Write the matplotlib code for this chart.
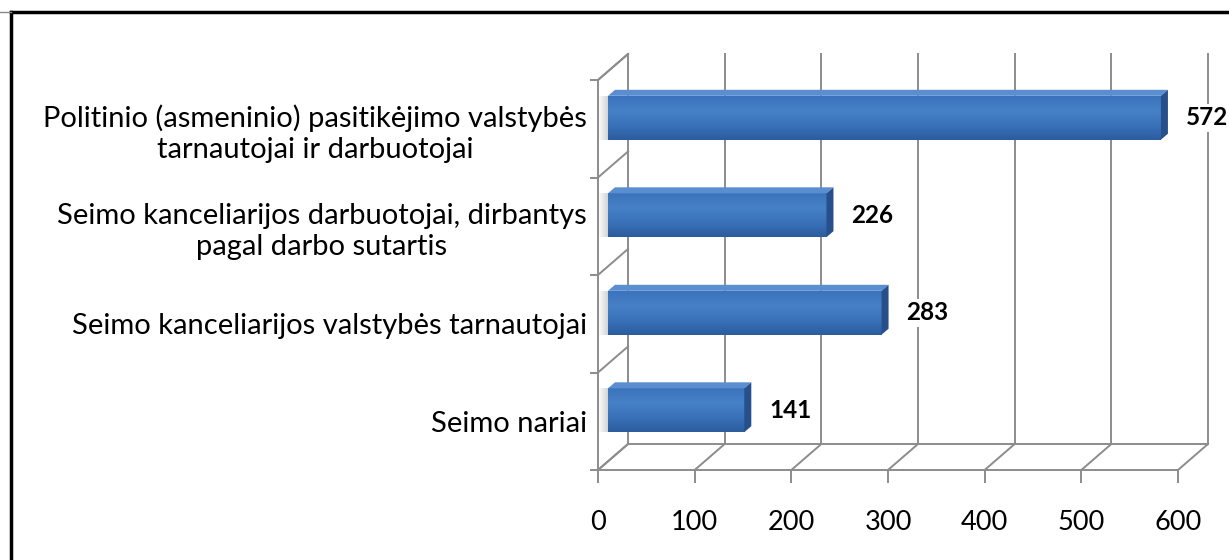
import numpy as np
import matplotlib.pyplot as plt
from matplotlib.patches import Polygon
from matplotlib.colors import LinearSegmentedColormap
from matplotlib.lines import Line2D

# data (bottom to top)
categories = ["Seimo nariai",
              "Seimo kanceliarijos valstybės tarnautojai",
              "Seimo kanceliarijos darbuotojai, dirbantys\npagal darbo sutartis",
              "Politinio (asmeninio) pasitikėjimo valstybės\ntarnautojai ir darbuotojai"]
values = [141, 283, 226, 572]
xticks = [0, 100, 200, 300, 400, 500, 600]

plt.rcParams['font.family'] = ['Lato', 'DejaVu Sans']
grid_col = '#8c8c8c'

fig = plt.figure(figsize=(12.29, 5.6), dpi=100)
ax = fig.add_axes([598 / 1229, 90 / 560, 580 / 1229, 390 / 560])
ax.set_xlim(0, 600)
ax.set_ylim(-0.5, len(categories) - 0.5)

# pixel -> data units
ux = 600 / ax.bbox.width
uy = len(categories) / ax.bbox.height
bx, by = 30 * ux, 26 * uy          # back wall depth
fx, fy = 10 * ux, 11 * uy          # bar front face depth
tx, ty = 7 * ux, 6 * uy            # bar thickness
y0, y1 = -0.5, len(categories) - 0.5

def seg(xs, ys, z=1):
    ax.add_line(Line2D(xs, ys, color=grid_col, lw=1.4, zorder=z, clip_on=False))

# back wall and floor
for v in xticks:
    seg([v + bx, v + bx], [y0 + by, y1 + by])
    seg([v, v + bx], [y0, y0 + by])
seg([bx, 600 + bx], [y0 + by, y0 + by])
seg([0, bx], [y1, y1 + by])
for b in np.arange(y0, y1 + 1):
    seg([0, bx], [b, b + by])

# bars
cmap = LinearSegmentedColormap.from_list('bar', ['#2c5c9e', '#3a72ba', '#4680c6', '#3b74bc'])
shade = LinearSegmentedColormap.from_list('shade', ['#ffffff', '#d4d4d4'])
h = 0.45
for i, v in enumerate(values):
    bot, top = i + fy - h / 2, i + fy + h / 2
    # soft shadow on side wall
    ax.imshow(np.linspace(0, 1, 30).reshape(1, -1), extent=(0, fx, bot, top), cmap=shade,
              aspect='auto', zorder=2, clip_on=False)
    ax.barh(i + fy, v, left=fx, height=h, color='#3a72ba', zorder=3, clip_on=False)
    grad = np.linspace(0, 1, 50).reshape(-1, 1)
    ax.imshow(grad, extent=(fx, fx + v, bot, top), origin='lower', cmap=cmap,
              aspect='auto', zorder=3.5, clip_on=False)
    ax.add_patch(Polygon([(fx, top), (fx + v, top), (fx + v + tx, top + ty), (fx + tx, top + ty)],
                         closed=True, fc='#5a8ed0', ec='none', zorder=4, clip_on=False))
    ax.add_patch(Polygon([(fx + v, bot), (fx + v, top), (fx + v + tx, top + ty), (fx + v + tx, bot + ty)],
                         closed=True, fc='#264f8c', ec='none', zorder=4, clip_on=False))
    ax.annotate(str(v), xy=(fx + v + tx, i + fy), xytext=(13, 0), textcoords='offset points',
                ha='left', va='center', fontsize=17.5, fontweight='bold', color='black',
                bbox=dict(boxstyle='square,pad=0.1', fc='white', ec='none'), zorder=5,
                annotation_clip=False)

ax.set_xlim(0, 600)
ax.set_ylim(y0, y1)

# axes, ticks
for s in ['top', 'right']:
    ax.spines[s].set_visible(False)
for s in ['left', 'bottom']:
    ax.spines[s].set_color(grid_col)
    ax.spines[s].set_linewidth(1.4)
ax.set_xticks(xticks)
ax.tick_params(axis='x', length=9, width=1.4, color=grid_col, pad=20, labelsize=19.5)
ax.set_yticks(range(len(categories)))
ax.set_yticklabels(categories, multialignment='center', linespacing=1.25)
ax.set_yticks(np.arange(y0, y1 + 1), minor=True)
ax.tick_params(axis='y', which='major', length=0, pad=8, labelsize=21)
ax.tick_params(axis='y', which='minor', length=6, width=1.4, color=grid_col)
ax.set_facecolor('none')

# outer frame
fig.add_artist(Line2D([11 / 1229, 11 / 1229], [0, 1 - 12 / 560], transform=fig.transFigure,
                      color='black', lw=2.5))
fig.add_artist(Line2D([11 / 1229, 1], [1 - 12 / 560, 1 - 12 / 560], transform=fig.transFigure,
                      color='black', lw=2.5))
fig.add_artist(Line2D([0, 11 / 1229], [1 - 12 / 560, 1 - 12 / 560], transform=fig.transFigure,
                      color='#888888', lw=1))

fig.savefig('out.png', dpi=100, facecolor='white')
